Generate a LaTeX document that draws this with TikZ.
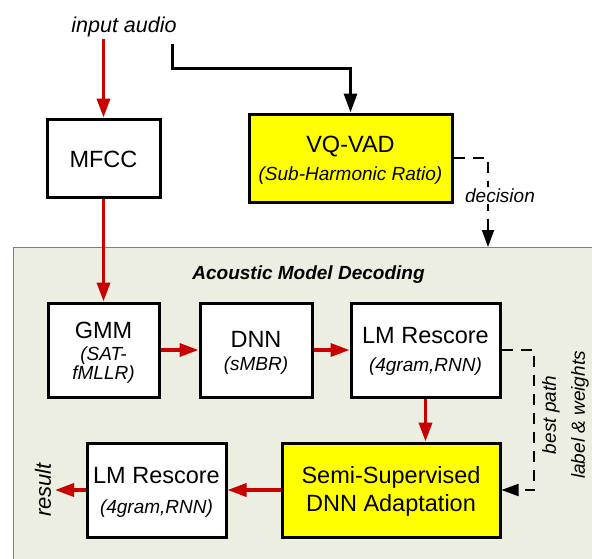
\documentclass[tikz,border=0pt]{standalone}
\usepackage{fontspec}
\setmainfont{Liberation Sans}
\usetikzlibrary{arrows.meta,calc}
\definecolor{arrred}{RGB}{200,0,0}
\definecolor{panelfill}{RGB}{235,238,224}
\definecolor{panelline}{RGB}{128,128,128}
\definecolor{boxyellow}{RGB}{255,255,0}
\newcommand{\mainsz}{\fontsize{23.5}{28}\selectfont}
\newcommand{\subsz}{\fontsize{19}{22}\selectfont\itshape}
\tikzset{
  box/.style={draw=black, line width=3pt, fill=white, inner sep=0pt},
  ybox/.style={box, fill=boxyellow},
  maintxt/.style={anchor=base, font=\mainsz, inner sep=0pt},
  subtxt/.style={anchor=base, font=\subsz, inner sep=0pt},
  redarrow/.style={draw=arrred, line width=3.5pt, -{Triangle[length=19pt,width=13pt]}},
  blkarrow/.style={draw=black, line width=3pt, -{Triangle[length=19pt,width=13pt]}},
  dasharrow/.style={draw=black, line width=1.8pt, dash pattern=on 11pt off 8pt, -{Triangle[length=17pt,width=12pt]}},
}
\begin{document}
\begin{tikzpicture}[x=1pt,y=-1pt]
\useasboundingbox (0,0) rectangle (592,558);
\clip (0,0) rectangle (592,558);
\fill[white] (0,0) rectangle (592,558);

% panel
\node[draw=panelline, fill=panelfill, line width=1pt, anchor=north west,
      minimum width=620pt, minimum height=340pt, inner sep=0pt] (panel) at (12.7,247) {};
\node[anchor=base, font=\fontsize{19}{22}\selectfont\bfseries\itshape, inner sep=0pt] (paneltitle) at (308.5,279) {Acoustic Model Decoding};

% top input
\node[anchor=base, font=\fontsize{21.5}{25}\selectfont\itshape, inner sep=0pt] (inaudio) at (124,32) {input audio};
\coordinate (inred) at (103.5,39);
\coordinate (inblk) at (172,44);

% boxes
\node[box, minimum width=113pt, minimum height=78pt] (mfcc) at (103.5,158) {};
\node[maintxt] (mfccT) at (103.5,167) {MFCC};

\node[ybox, minimum width=203pt, minimum height=88pt] (vqvad) at (350.5,158) {};
\node[maintxt] (vqT) at (350.5,152) {VQ-VAD};
\node[subtxt] (vqS) at (350.5,180) {(Sub-Harmonic Ratio)};

\node[box, minimum width=111pt, minimum height=94pt] (gmm) at (103.5,350) {};
\node[maintxt] (gmmT) at (103.5,338) {GMM};
\node[subtxt] (gmmS1) at (103.5,360) {(SAT-};
\node[subtxt] (gmmS2) at (103.5,379) {fMLLR)};

\node[box, minimum width=112pt, minimum height=94pt] (dnn) at (256,350) {};
\node[maintxt] (dnnT) at (256,347) {DNN};
\node[subtxt] (dnnS) at (256,370) {(sMBR)};

\node[box, minimum width=149pt, minimum height=94pt] (lm1) at (425.5,350) {};
\node[maintxt] (lm1T) at (425.5,343) {LM Rescore};
\node[subtxt] (lm1S) at (425.5,371) {(4gram,RNN)};

\node[ybox, minimum width=218pt, minimum height=94pt] (semi) at (391,490) {};
\node[maintxt] (semiT1) at (391,483) {Semi-Supervised};
\node[maintxt] (semiT2) at (391,511) {DNN Adaptation};

\node[box, minimum width=139pt, minimum height=94pt] (lm2) at (156.5,490) {};
\node[maintxt] (lm2T) at (156.5,483) {LM Rescore};
\node[subtxt] (lm2S) at (156.5,513) {(4gram,RNN)};

% side labels
\node[rotate=90, font=\fontsize{22}{26}\selectfont\itshape, inner sep=0pt] (result) at (43,490) {result};
\coordinate (resend) at (55,490);
\node[rotate=90, font=\fontsize{19}{22}\selectfont\itshape, inner sep=0pt] (bestpath) at (551,415) {best path};
\node[rotate=90, font=\fontsize{19}{22}\selectfont\itshape, inner sep=0pt] (labelw) at (580,415) {label \& weights};

% connectors
\draw[redarrow] (inred) -- (mfcc.north);
\draw[redarrow] (mfcc.south) -- (gmm.north);
\draw[redarrow] (gmm.east) -- (dnn.west);
\draw[redarrow] (dnn.east) -- (lm1.west);
\draw[redarrow] (lm1.south) -- (semi.north -| lm1.south);
\draw[redarrow] (semi.west) -- (lm2.east);
\draw[redarrow] (lm2.west) -- (resend);

\draw[blkarrow, line cap=butt] (inblk) -- (172,68) -| (vqvad.north);

\draw[dasharrow] (vqvad.east) -- (488,158) -- (488 ,247);
\draw[dasharrow] (lm1.east) -- (534,350) |- (semi.east);

% decision label over the dashed line
\node[anchor=base, font=\fontsize{19}{22}\selectfont\itshape, fill=white, inner sep=1.5pt] (decision) at (500,202) {decision};
\end{tikzpicture}
\end{document}
